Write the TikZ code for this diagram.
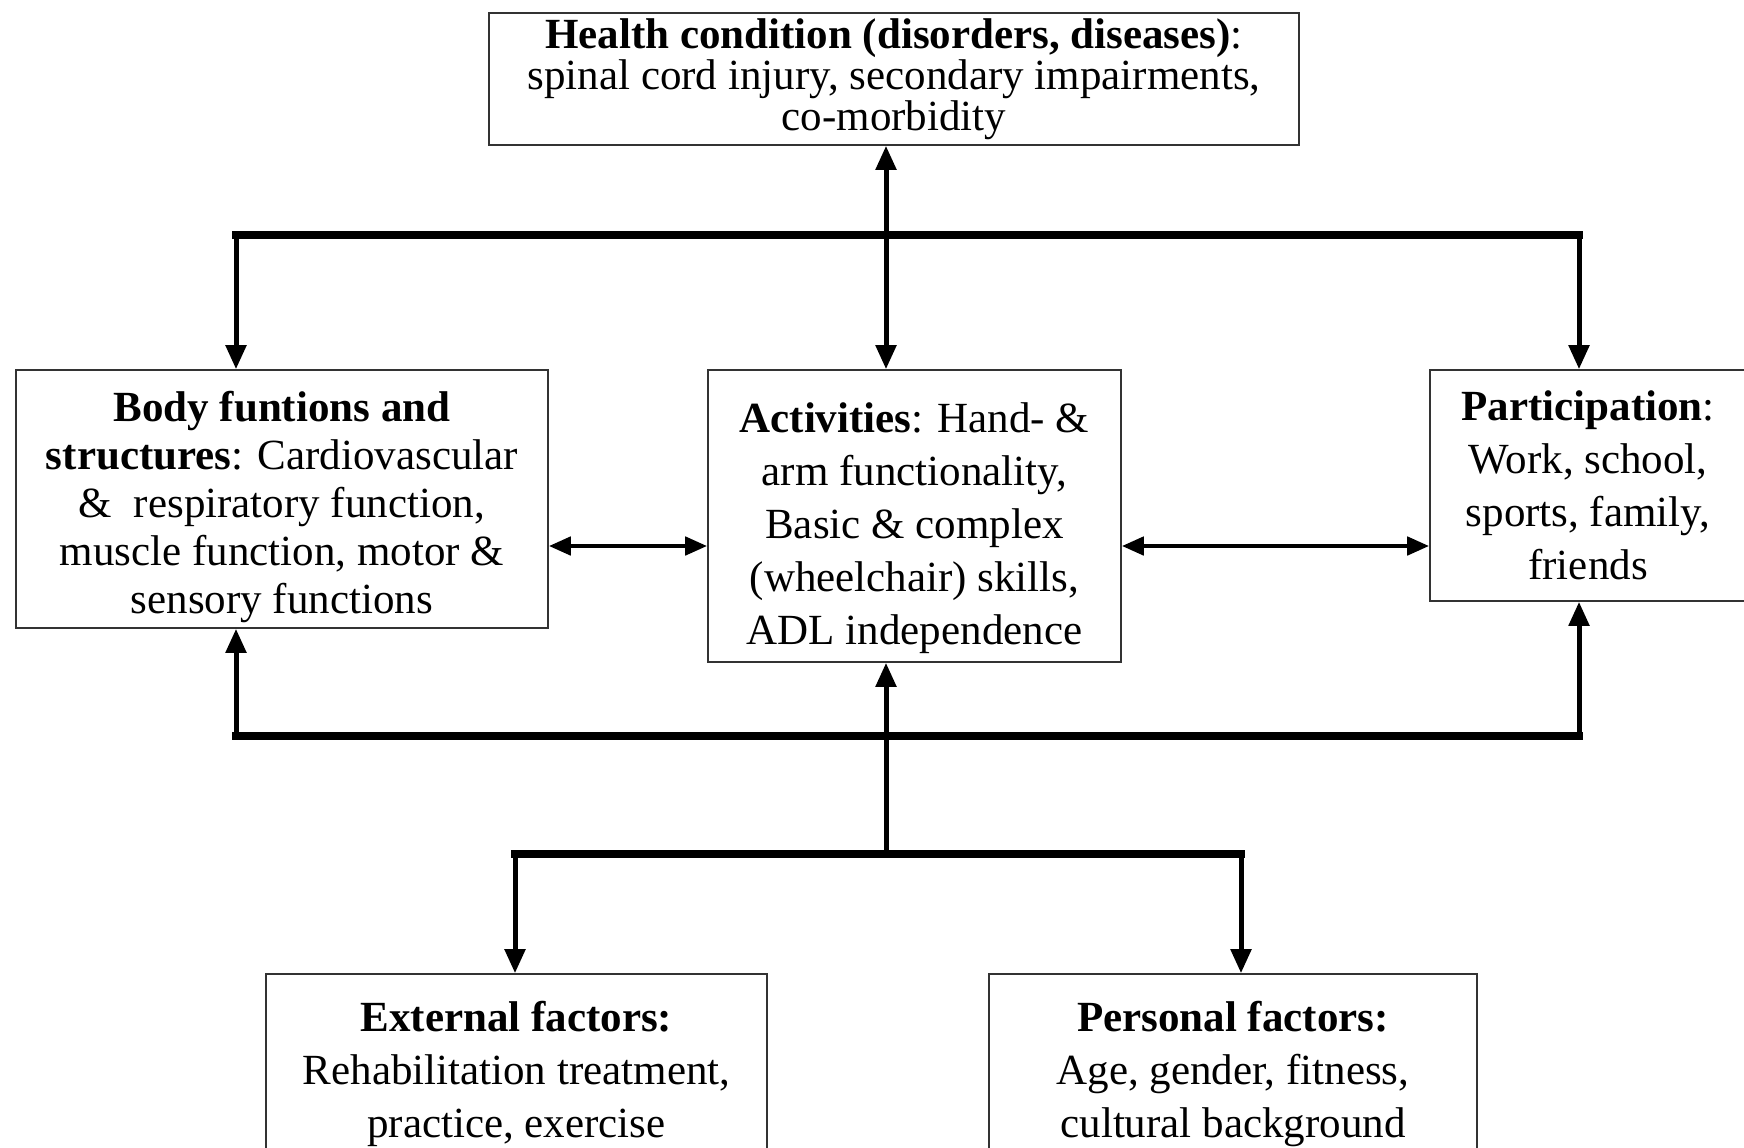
\documentclass[tikz,border=0pt]{standalone}
\usepackage{fontspec}
\setmainfont{Liberation Serif}
\usetikzlibrary{arrows.meta}
\begin{document}
\begin{tikzpicture}[x=0.5pt,y=-0.5pt,
  boxn/.style={draw=black!80, line width=0.8pt, rectangle, inner sep=0pt, align=center,
    font=\fontsize{21.5}{26.5}\selectfont},
  hbar/.style={line width=3.8pt, line cap=rect},
  conn/.style={line width=2.5pt, -{Triangle[length=12pt,width=10pt]}},
  dconn/.style={line width=2.3pt, {Triangle[length=11pt,width=9pt]}-{Triangle[length=11pt,width=9pt]}},
  vdconn/.style={line width=2.5pt, {Triangle[length=12pt,width=10pt]}-{Triangle[length=12pt,width=10pt]}}]
\useasboundingbox (0,0) rectangle (1744,1147);

\node[boxn, minimum width=405pt, minimum height=66pt, font=\fontsize{21.5}{17.5}\selectfont] (health) at (894,79)
  {\textbf{Health condition (disorders, diseases)}:\\spinal cord injury, secondary impairments,\\co-morbidity};
\node[boxn, minimum width=266pt, minimum height=129pt, font=\fontsize{21.5}{24}\selectfont] (body) at (282,499)
  {\rule{0pt}{23pt}\textbf{Body funtions and}\\\textbf{structures}: Cardiovascular\\\&\ \ respiratory function,\\muscle function, motor \&\\sensory functions};
\node[boxn, minimum width=206.5pt, minimum height=146pt] (act) at (914.5,516)
  {\rule{0pt}{27pt}\textbf{Activities}: Hand- \&\\arm functionality,\\Basic \& complex\\(wheelchair) skills,\\ADL independence};
\node[boxn, minimum width=158pt, minimum height=115.5pt] (part) at (1588,485.5)
  {\textbf{Participation}:\\Work, school,\\sports, family,\\friends};
\node[boxn, minimum width=250.5pt, minimum height=92pt] (ext) at (516.5,1066)
  {\rule{0pt}{23pt}\textbf{External factors:}\\Rehabilitation treatment,\\practice, exercise};
\node[boxn, minimum width=244pt, minimum height=92pt] (pers) at (1233,1066)
  {\rule{0pt}{23pt}\textbf{Personal factors:}\\Age, gender, fitness,\\cultural background};

\coordinate (tL) at (236,235);
\coordinate (tR) at (1579,235);
\coordinate (tC) at (886,235);
\coordinate (bL) at (236,736);
\coordinate (bR) at (1579,736);
\coordinate (bC) at (886,736);
\coordinate (lL) at (515,854);
\coordinate (lR) at (1241,854);
\coordinate (lC) at (886,854);
\coordinate (hy) at (0,546);

\draw[hbar] (tL) -- (tR);
\draw[conn] (tL) -- (tL |- body.north);
\draw[conn] (tR) -- (tR |- part.north);
\draw[vdconn] (tC |- health.south) -- (tC |- act.north);

\draw[hbar] (bL) -- (bR);
\draw[conn] (bL) -- (bL |- body.south);
\draw[conn] (bR) -- (bR |- part.south);
\draw[conn] (lC) -- (bC |- act.south);

\draw[hbar] (lL) -- (lR);
\draw[conn] (lL) -- (lL |- ext.north);
\draw[conn] (lR) -- (lR |- pers.north);

\draw[dconn] (body.east |- hy) -- (act.west |- hy);
\draw[dconn] (act.east |- hy) -- (part.west |- hy);
\end{tikzpicture}
\end{document}
